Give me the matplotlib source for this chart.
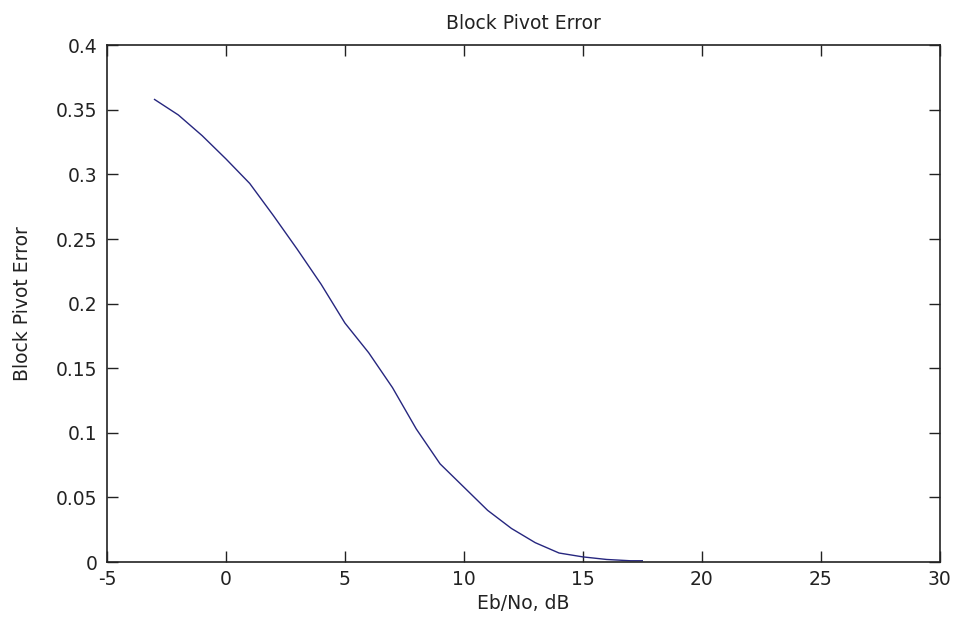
import matplotlib
matplotlib.use("Agg")
import matplotlib.pyplot as plt

# Eb/No (dB) and measured block pivot error
ebno = [-3, -2, -1, 0, 1, 2, 3, 4, 5, 6, 7, 8, 9, 10, 11, 12, 13, 14, 15, 16, 17, 17.5]
err = [0.358, 0.346, 0.330, 0.312, 0.293, 0.268, 0.242, 0.215, 0.185, 0.162, 0.135,
       0.103, 0.076, 0.058, 0.040, 0.026, 0.015, 0.007, 0.004, 0.002, 0.001, 0.001]

xticks = [-5, 0, 5, 10, 15, 20, 25, 30]
yticks = [0, 0.05, 0.1, 0.15, 0.2, 0.25, 0.3, 0.35, 0.4]
ylabels = ["0", "0.05", "0.1", "0.15", "0.2", "0.25", "0.3", "0.35", "0.4"]

plt.rcParams['font.family'] = ['DejaVu Sans']
plt.rcParams['axes.unicode_minus'] = False

fig = plt.figure(figsize=(9.55, 6.19), dpi=100)
ax = fig.add_axes([0.112, 0.092, 0.872, 0.835])
ax.plot(ebno, err, color='#26267f', lw=1.0)

ax.set_xlim(-5, 30)
ax.set_ylim(0, 0.4)
ax.set_xticks(xticks)
ax.set_yticks(yticks)
ax.set_yticklabels(ylabels)
ax.tick_params(direction='in', top=True, right=True, length=8, width=1,
               labelsize=13.5, colors='#222222')
ax.tick_params(axis='x', pad=6)
ax.tick_params(axis='y', pad=7)
for s in ax.spines.values():
    s.set_linewidth(1.2)
    s.set_color('#222222')

ax.set_title("Block Pivot Error", fontsize=13.5, pad=12, color='#222222')
ax.set_xlabel("Eb/No, dB", fontsize=13.5, labelpad=3, color='#222222')
ax.set_ylabel("Block Pivot Error", fontsize=13.5, labelpad=17, color='#222222')

fig.savefig("out.png", dpi=100)
